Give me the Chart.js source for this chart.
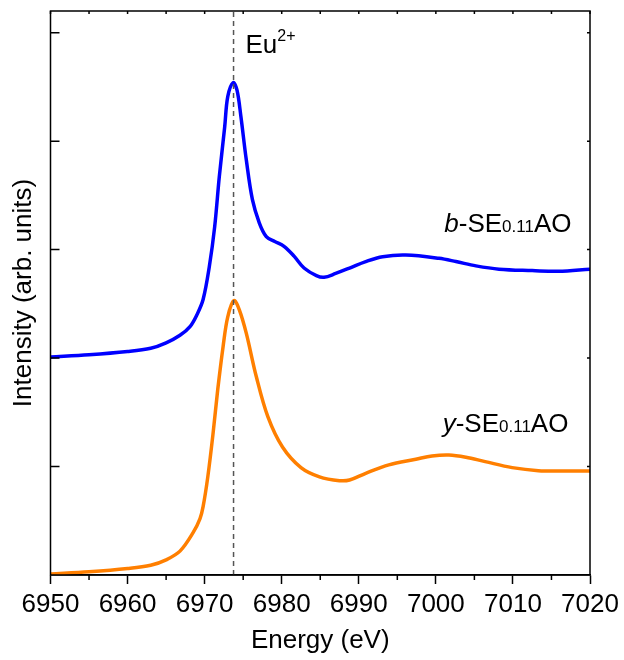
<!DOCTYPE html>
<html>
<head>
<meta charset="utf-8">
<script src="https://cdn.jsdelivr.net/npm/chart.js@4"></script>
<style>
  html, body { margin:0; padding:0; background:#fff; }
  #wrap { width:624px; height:660px; position:relative; }
</style>
</head>
<body>
<div id="wrap"><canvas id="xanes"></canvas></div>
<script>
// ─── Data ────────────────────────────────────────────────────────────────────
const blueE = [6950, 6955, 6960, 6963, 6965, 6966.8, 6968.1, 6969, 6969.8, 6970.6, 6971.3, 6971.9,
  6972.6, 6973.0, 6973.7, 6974.2, 6974.7, 6975.4, 6976.2, 6977.1, 6978.0, 6979.1, 6980.3, 6981.6,
  6982.9, 6984.5, 6985.5, 6987.0, 6988.8, 6990.9, 6993.1, 6996.1, 7000.4, 7002.6, 7005.2, 7008.2,
  7012.5, 7015.9, 7020];
const blueI = [2.01, 2.03, 2.06, 2.09, 2.14, 2.21, 2.29, 2.40, 2.54, 2.84, 3.21, 3.67,
  4.13, 4.41, 4.54, 4.47, 4.23, 3.83, 3.46, 3.245, 3.12, 3.075, 3.03, 2.94,
  2.83, 2.76, 2.745, 2.78, 2.83, 2.89, 2.935, 2.95, 2.92, 2.89, 2.85, 2.82,
  2.807, 2.80, 2.82];

const orangeE = [6950, 6955, 6960, 6963, 6965, 6966.8, 6968.5, 6969.4, 6969.8, 6970.4, 6971.1, 6971.7,
  6972.4, 6973.0, 6973.8, 6974.5, 6975.4, 6976.7, 6978.2, 6980.1, 6982.5, 6984.9, 6987.5, 6988.8,
  6990.9, 6993.9, 6997.4, 6999.5, 7001.7, 7003.9, 7006.4, 7009.9, 7013.3, 7016.8, 7020];
const orangeI = [0.01, 0.03, 0.06, 0.09, 0.14, 0.22, 0.39, 0.52, 0.63, 0.90, 1.31, 1.71,
  2.11, 2.38, 2.53, 2.445, 2.23, 1.83, 1.46, 1.18, 0.99, 0.905, 0.87, 0.876,
  0.938, 1.015, 1.067, 1.098, 1.107, 1.086, 1.045, 0.99, 0.962, 0.959, 0.959];

const eu2Edge    = 6973.75;
const energyMajor = [6950, 6960, 6970, 6980, 6990, 7000, 7010, 7020];
const energyMinor = [6955, 6965, 6975, 6985, 6995, 7005, 7015];
const intensityTicks = [1, 2, 3, 4, 5];

// ─── Style ───────────────────────────────────────────────────────────────────
const FONT = "'Liberation Sans', Arial, sans-serif";
const C = { blue:'#0000ff', orange:'#ff7f00', dash:'#555555', axis:'#000' };
Chart.defaults.font.family = FONT;
Chart.defaults.color = '#000';

const pts = (xs, ys) => xs.map((x, i) => ({ x, y: ys[i] }));

// rich text, right-aligned at (xr, yb)
function drawRich(ctx, parts, xr, yb) {
  let w = 0;
  parts.forEach(p => { ctx.font = p.font; w += ctx.measureText(p.t).width; });
  let x = xr - w;
  parts.forEach(p => {
    ctx.font = p.font;
    ctx.fillText(p.t, x, yb);
    x += ctx.measureText(p.t).width;
  });
}

// ─── Frame, inward/minor ticks and labels ────────────────────────────────────
const frame = {
  id: 'frame',
  afterDatasetsDraw(chart) {
    const { ctx, chartArea: a, scales: { x, y } } = chart;
    ctx.save();
    ctx.strokeStyle = C.axis;
    ctx.lineWidth = 1.5;
    ctx.strokeRect(a.left, a.top, a.right - a.left, a.bottom - a.top);
    ctx.beginPath();
    energyMinor.forEach(e => {
      const px = x.getPixelForValue(e);
      ctx.moveTo(px, a.bottom); ctx.lineTo(px, a.bottom + 5);
    });
    energyMajor.concat(energyMinor).forEach(e => {
      const px = x.getPixelForValue(e);
      ctx.moveTo(px, a.top); ctx.lineTo(px, a.top + 3);
    });
    intensityTicks.forEach(v => {
      const py = y.getPixelForValue(v);
      ctx.moveTo(a.left, py); ctx.lineTo(a.left + 9, py);
      ctx.moveTo(a.right, py); ctx.lineTo(a.right - 3, py);
    });
    ctx.stroke();

    ctx.fillStyle = '#000';
    ctx.textBaseline = 'alphabetic';
    const big = `26px ${FONT}`, small = `17px ${FONT}`, it = `italic 26px ${FONT}`;
    // Eu2+
    const ex = x.getPixelForValue(6975.3), ey = y.getPixelForValue(4.81);
    ctx.font = big; ctx.fillText('Eu', ex, ey);
    const ew = ctx.measureText('Eu').width;
    ctx.font = `16px ${FONT}`; ctx.fillText('2+', ex + ew, ey - 12);
    // sample labels
    drawRich(ctx, [{ t:'b', font:it }, { t:'-SE', font:big }, { t:'0.11', font:small }, { t:'AO', font:big }],
      x.getPixelForValue(7017.6), y.getPixelForValue(3.164));
    drawRich(ctx, [{ t:'y', font:it }, { t:'-SE', font:big }, { t:'0.11', font:small }, { t:'AO', font:big }],
      x.getPixelForValue(7017.2), y.getPixelForValue(1.319));
    ctx.restore();
  }
};

// ─── Chart ───────────────────────────────────────────────────────────────────
new Chart(document.getElementById('xanes'), {
  type: 'line',
  data: { datasets: [
    { label:'Eu2+', data:[{ x:eu2Edge, y:0 }, { x:eu2Edge, y:5.2 }], borderColor:C.dash,
      borderWidth:1.5, borderDash:[5, 4], pointRadius:0, tension:0 },
    { label:'b-SE0.11AO', data:pts(blueE, blueI), borderColor:C.blue, borderWidth:3.5,
      pointRadius:0, tension:0.35 },
    { label:'y-SE0.11AO', data:pts(orangeE, orangeI), borderColor:C.orange, borderWidth:3.5,
      pointRadius:0, tension:0.35 },
  ]},
  options: {
    responsive:true, maintainAspectRatio:false, animation:false,
    layout:{ padding:{ top:11, right:34, left:0, bottom:0 } },
    plugins:{ legend:{ display:false }, tooltip:{ enabled:false } },
    scales:{
      x:{
        type:'linear', min:6950, max:7020,
        afterBuildTicks: s => { s.ticks = energyMajor.map(v => ({ value:v })); },
        ticks:{ font:{ size:26 }, padding:5, maxRotation:0, autoSkip:false, callback:v => String(v) },
        grid:{ drawOnChartArea:false, drawTicks:true, tickLength:9, tickWidth:1.5, tickColor:C.axis },
        border:{ display:true, color:C.axis, width:1.5 },
        title:{ display:true, text:'Energy (eV)', font:{ size:26 }, padding:{ top:4, bottom:4 } },
        afterFit: s => { s.height = 85; },
      },
      y:{
        type:'linear', min:0, max:5.2,
        ticks:{ display:false },
        grid:{ display:false },
        border:{ display:false },
        title:{ display:true, text:'Intensity (arb. units)', font:{ size:26 }, padding:{ top:8, bottom:4 } },
        afterFit: s => { s.width = 50.5; },
      },
    },
  },
  plugins:[frame],
});
</script>
</body>
</html>
